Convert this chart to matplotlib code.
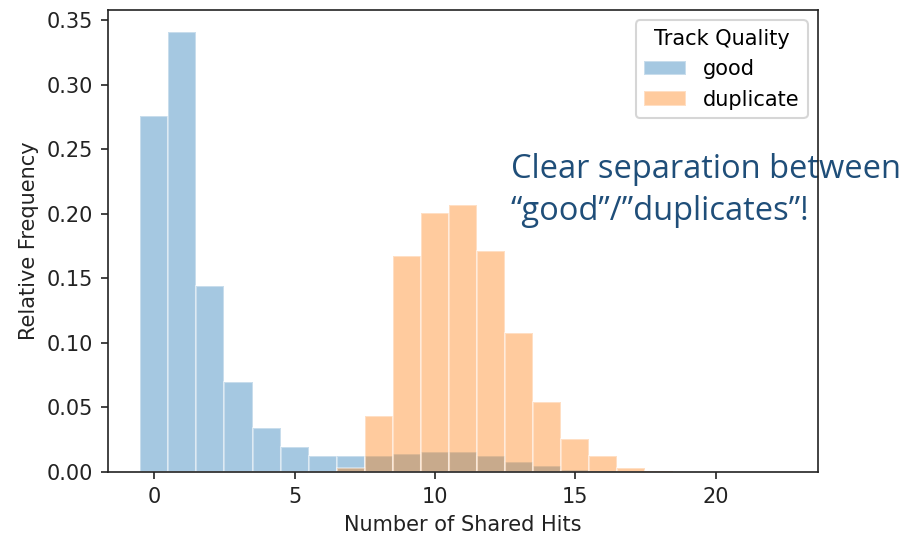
import numpy as np
import matplotlib
matplotlib.use("Agg")
import matplotlib.pyplot as plt

# Relative frequency of shared hits per track, one bin per integer count
shared_hits = np.arange(0, 23)
good = [0.276, 0.341, 0.1445, 0.070, 0.034, 0.019, 0.0124, 0.0124, 0.0124,
        0.014, 0.0158, 0.0158, 0.0124, 0.0075, 0.0047, 0.0015, 0.0007,
        0.0003, 0.0001, 0.0, 0.0, 0.0, 0.0]
duplicate = [0.0, 0.0, 0.0, 0.0, 0.0, 0.0, 0.0, 0.0033, 0.0437, 0.1673,
             0.2005, 0.2069, 0.171, 0.1078, 0.0539, 0.0259, 0.0124, 0.0028,
             0.001, 0.0003, 0.0001, 0.0, 0.0]
series_labels = ["good", "duplicate"]
y_ticks = [0.00, 0.05, 0.10, 0.15, 0.20, 0.25, 0.30, 0.35]

plt.rcParams["font.family"] = ["DejaVu Sans"]

W, H, DPI = 904, 538, 150
fig = plt.figure(figsize=(W / DPI, H / DPI), dpi=DPI)
ax = fig.add_axes([108 / W, 1 - 472 / H, (818 - 108) / W, (472 - 10) / H])

for values, color, label in zip([good, duplicate], ["tab:blue", "tab:orange"], series_labels):
    ax.bar(shared_hits, values, width=1.0, color=color, alpha=0.4,
           edgecolor="white", linewidth=1.0, label=label)

ax.set_yticks(y_ticks)
ax.tick_params(colors="#222222")
ax.set_xlabel("Number of Shared Hits", color="#222222")
ax.set_ylabel("Relative Frequency", color="#222222")
for sp in ax.spines.values():
    sp.set_color("#222222")

ax.legend(title="Track Quality", loc="upper right")

ax.text(511 / W, 1 - 220 / H, "Clear separation between\n\u201cgood\u201d/\u201dduplicates\u201d!",
        transform=fig.transFigure, fontsize=15.7, color="#1F4E79",
        family=["Open Sans", "DejaVu Sans"], va="baseline", ha="left",
        linespacing=1.35, clip_on=False, zorder=2)

fig.savefig("out.png", dpi=DPI)
